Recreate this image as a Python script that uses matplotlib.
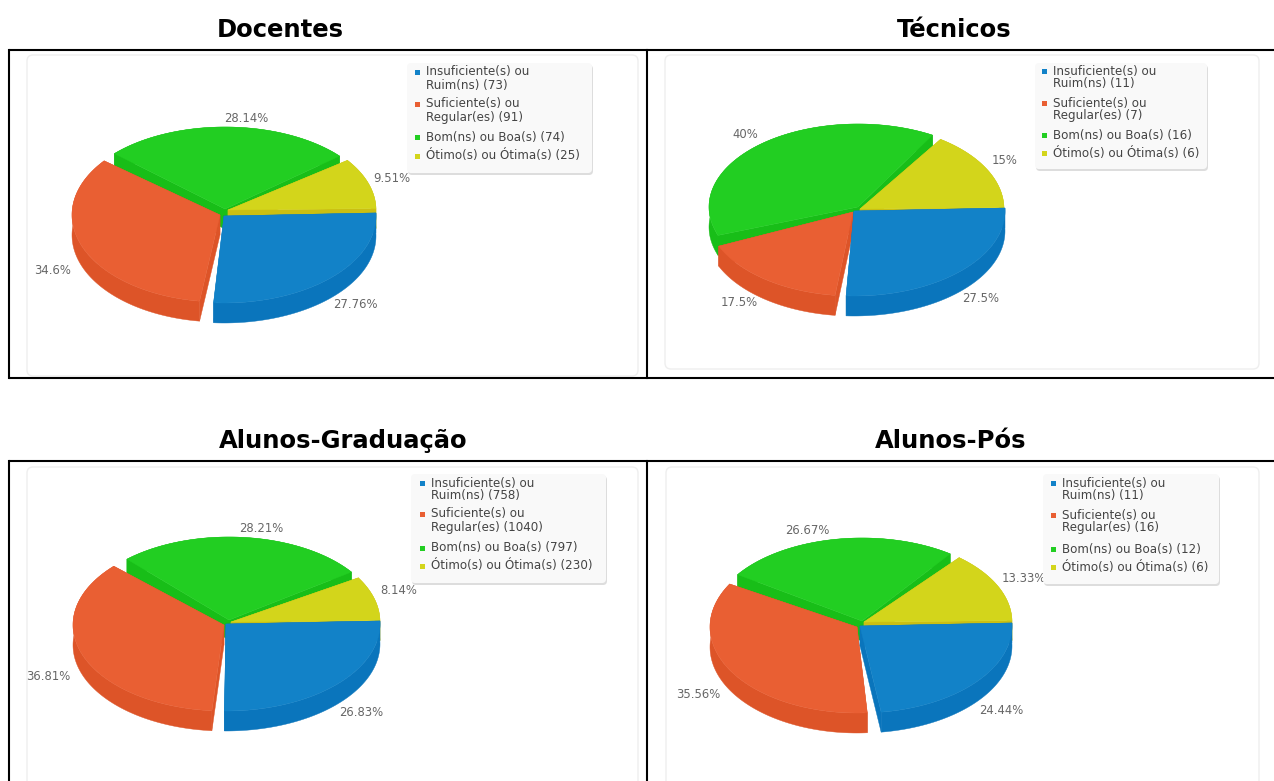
import numpy as np
import matplotlib.pyplot as plt
from matplotlib.patches import FancyBboxPatch, Polygon, Rectangle

titles = ['Docentes', 'Técnicos', 'Alunos-Graduação', 'Alunos-Pós']
categories = ['Insuficiente(s) ou\nRuim(ns)', 'Suficiente(s) ou\nRegular(es)', 'Bom(ns) ou Boa(s)', 'Ótimo(s) ou Ótima(s)']

docentes = [73, 91, 74, 25]
tecnicos = [11, 7, 16, 6]
graduacao = [758, 1040, 797, 230]
pos = [11, 16, 12, 6]

top_colors = ['#1282C8', '#E95F33', '#22CE22', '#D3D51B']
wall_colors = ['#0A75BC', '#DD5428', '#18BE18', '#CABF12']

# everything below is in image pixels
W, H = 1274, 781
DEPTH = 20
ROTATION = -4
TRIM = 2  # degrees taken off each side of a slice, leaves the gaps


def draw_slice(ax, cx, cy, rx, ry, a0, a1, top, wall, z):
    t = np.radians(np.linspace(a0, a1, 120))
    x = cx + rx * np.cos(t)
    y = cy + ry * np.sin(t)
    # side walls, then rim, then the lid over them
    for px, py in [(x[0], y[0]), (x[-1], y[-1])]:
        side = [(cx, cy), (px, py), (px, py + DEPTH), (cx, cy + DEPTH)]
        ax.add_patch(Polygon(side, fc=wall, ec=wall, lw=0.3, zorder=z))
    rim = np.r_[np.c_[x, y], np.c_[x, y + DEPTH][::-1]]
    ax.add_patch(Polygon(rim, fc=wall, ec=wall, lw=0.3, zorder=z))
    lid = np.r_[[[cx, cy]], np.c_[x, y]]
    ax.add_patch(Polygon(lid, fc=top, ec=top, lw=0.3, zorder=z))


def draw_pie(ax, values, geom):
    share = np.array(values) / sum(values)
    edges = np.r_[0, np.cumsum(share)] * 360 + ROTATION
    starts = edges[:-1] + TRIM
    ends = edges[1:] - TRIM
    ends[-1] = edges[-1] + 3  # yellow runs right up to the blue one
    # back slices first, blue sits on top at the front
    for z, i in zip([3, 4, 5, 6], [2, 3, 1, 0]):
        cx, cy, rx, ry = geom[i]
        draw_slice(ax, cx, cy, rx, ry, starts[i], ends[i], top_colors[i], wall_colors[i], z)


def draw_legend(ax, values, box, text_x, marker_x, line_ys):
    x0, y0, x1, y1 = box
    ax.add_patch(FancyBboxPatch((x0 + 1, y0 + 2), x1 - x0, y1 - y0, boxstyle='round,pad=0,rounding_size=4',
                                fc='#DDDDDD', ec='none', zorder=9))
    ax.add_patch(FancyBboxPatch((x0, y0), x1 - x0, y1 - y0, boxstyle='round,pad=0,rounding_size=4',
                                fc='#F9F9F9', ec='none', zorder=10))
    for i, label in enumerate(categories):
        lines = (label + f' ({values[i]})').split('\n')
        ys = line_ys[i]
        ax.add_patch(Rectangle((marker_x - 2.5, ys[0] - 2.5), 5, 5, fc=top_colors[i], ec='none', zorder=11))
        for line, y in zip(lines, ys):
            ax.text(text_x, y, line, fontsize=8.6, color='#444444', ha='left', va='center', zorder=11)


def draw_labels(ax, values, positions):
    total = sum(values)
    for v, (x, y) in zip(values, positions):
        ax.text(x, y, f'{round(v / total * 100, 2):g}%', fontsize=8.4, color='#666666',
                ha='center', va='center', zorder=8)


panels = [
    dict(values=docentes, title_xy=(280, 30), card=(27, 55, 638, 376),
         geom=[(224, 216, 152, 87), (220, 215, 148, 87), (225, 209, 150, 82), (228, 210, 148, 84)],
         labels=[(355, 305), (53, 270), (246, 118), (392, 178)],
         box=(407, 63, 592, 173), text_x=426, marker_x=417,
         line_ys=[(72, 85), (104, 117), (137,), (156,)]),
    dict(values=tecnicos, title_xy=(954, 30), card=(665, 55, 1259, 369),
         geom=[(854, 211, 151, 85), (853, 212, 147, 84), (858, 207, 149, 83), (860, 209, 144, 84)],
         labels=[(981, 298), (739, 303), (745, 134), (1005, 161)],
         box=(1035, 63, 1207, 169), text_x=1053, marker_x=1044,
         line_ys=[(71, 84), (103, 116), (135,), (153,)]),
    dict(values=graduacao, title_xy=(343, 441), card=(27, 467, 638, 790),
         geom=[(226, 624, 154, 87), (224, 625, 151, 86), (229, 620, 150, 83), (231, 622, 149, 85)],
         labels=[(361, 712), (48, 677), (261, 528), (399, 591)],
         box=(411, 474, 606, 583), text_x=431, marker_x=422,
         line_ys=[(483, 496), (514, 527), (548,), (566,)]),
    dict(values=pos, title_xy=(951, 441), card=(666, 467, 1259, 790),
         geom=[(860, 626, 152, 87), (857, 627, 147, 86), (862, 621, 150, 83), (864, 622, 148, 84)],
         labels=[(1001, 710), (698, 694), (807, 530), (1024, 579)],
         box=(1043, 474, 1219, 584), text_x=1062, marker_x=1053,
         line_ys=[(483, 496), (515, 528), (549,), (567,)]),
]

fig = plt.figure(figsize=(W / 100, H / 100), dpi=100)
ax = fig.add_axes([0, 0, 1, 1])
ax.set_xlim(0, W)
ax.set_ylim(H, 0)
ax.axis('off')

for title, p in zip(titles, panels):
    x0, y0, x1, y1 = p['card']
    ax.add_patch(FancyBboxPatch((x0, y0), x1 - x0, y1 - y0, boxstyle='round,pad=0,rounding_size=6',
                                fc='white', ec='#EEEEEE', lw=1, zorder=1))
    ax.text(p['title_xy'][0], p['title_xy'][1], title, fontsize=17.5, fontweight='bold', color='black',
            ha='center', va='center', zorder=20)
    draw_pie(ax, p['values'], p['geom'])
    draw_labels(ax, p['values'], p['labels'])
    draw_legend(ax, p['values'], p['box'], p['text_x'], p['marker_x'], p['line_ys'])

# black table lines around the panels
for y in [50, 378, 461]:
    ax.plot([9, W], [y, y], color='black', lw=1.5, zorder=15, solid_capstyle='butt')
ax.plot([9, 9], [50, 378], color='black', lw=1.5, zorder=15)
ax.plot([647, 647], [50, 378], color='black', lw=1.5, zorder=15)
ax.plot([9, 9], [461, H], color='black', lw=1.5, zorder=15)
ax.plot([647, 647], [461, H], color='black', lw=1.5, zorder=15)

fig.savefig('out.png', dpi=100)
